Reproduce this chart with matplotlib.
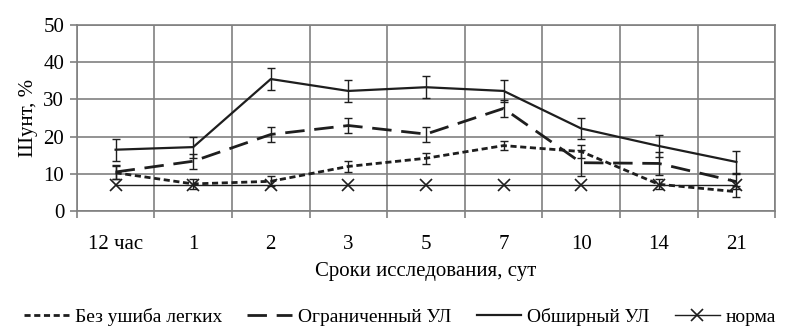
import numpy as np
import matplotlib.pyplot as plt
from matplotlib.lines import Line2D

plt.rcParams['font.family'] = ['Liberation Serif', 'DejaVu Serif']
plt.rcParams['font.size'] = 15

periods = ['12 час', '1', '2', '3', '5', '7', '10', '14', '21']
bez_ushiba = [10.3, 7.3, 8.0, 12.0, 14.2, 17.6, 16.0, 7.2, 5.2]
bez_ushiba_err = [1.8, 1.3, 1.3, 1.5, 1.5, 1.3, 1.8, 1.3, 1.5]
ogranich = [10.5, 13.4, 20.6, 23.0, 20.7, 27.6, 13.0, 12.8, 7.9]
ogranich_err = [2.0, 2.0, 2.0, 2.0, 2.0, 2.2, 3.5, 3.0, 2.0]
obshirn = [16.5, 17.2, 35.5, 32.3, 33.3, 32.3, 22.2, 17.5, 13.2]
obshirn_err = [3.0, 2.8, 2.9, 3.0, 3.0, 3.0, 2.9, 3.0, 3.0]
norma = [7, 7, 7, 7, 7, 7, 7, 7, 7]

c = '#1e1e1e'
short_dash = (0, (2.2, 1.3))
long_dash = (0, (7, 3.5))
x = np.arange(len(periods))

fig = plt.figure(figsize=(8, 3.35), dpi=100)
ax = fig.add_axes([0.096, 0.37, 0.873, 0.555])

ax.errorbar(x, bez_ushiba, yerr=bez_ushiba_err, color=c, lw=2, ls=short_dash,
            capsize=3, elinewidth=1, capthick=1)
ax.errorbar(x, ogranich, yerr=ogranich_err, color=c, lw=2, ls=long_dash,
            capsize=3, elinewidth=1, capthick=1)
ax.errorbar(x, obshirn, yerr=obshirn_err, color=c, lw=1.6, ls='-',
            capsize=3, elinewidth=1, capthick=1)
ax.plot(x, norma, color=c, lw=1, marker='x', ms=8, mew=1.2)

ax.set_xlim(-0.5, len(periods) - 0.5)
ax.set_ylim(0, 50)
ax.set_yticks(range(0, 51, 10))
ax.set_xticks(x)
ax.set_xticklabels(periods)
ax.set_xticks(np.arange(-0.5, len(periods), 1), minor=True)
ax.grid(True, which='minor', axis='x', color='#808080', lw=1.2)
ax.grid(True, which='major', axis='y', color='#808080', lw=1.2)
ax.tick_params(axis='x', which='major', length=0, pad=17)
ax.tick_params(axis='x', which='minor', length=5, color='#808080', width=1.2)
ax.tick_params(axis='y', length=5, color='#808080', width=1.2, pad=4)
for s in ax.spines.values():
    s.set_color('#808080')
    s.set_linewidth(1.2)
ax.set_axisbelow(True)

ax.set_ylabel('Шунт, %', labelpad=4)
ax.set_xlabel('Сроки исследования, сут', labelpad=6)

handles = [
    Line2D([], [], color=c, lw=2, ls=short_dash),
    Line2D([], [], color=c, lw=2, ls=long_dash),
    Line2D([], [], color=c, lw=1.6),
    Line2D([], [], color=c, lw=1, marker='x', ms=8, mew=1.2),
]
labels = ['Без ушиба легких', 'Ограниченный УЛ', 'Обширный УЛ', 'норма']
fig.legend(handles, labels, loc='lower center', bbox_to_anchor=(0.5, -0.025), ncol=4,
           frameon=False, fontsize=14, handlelength=2.3, handletextpad=0.3,
           columnspacing=1.3)

fig.savefig('out.png', dpi=100)
